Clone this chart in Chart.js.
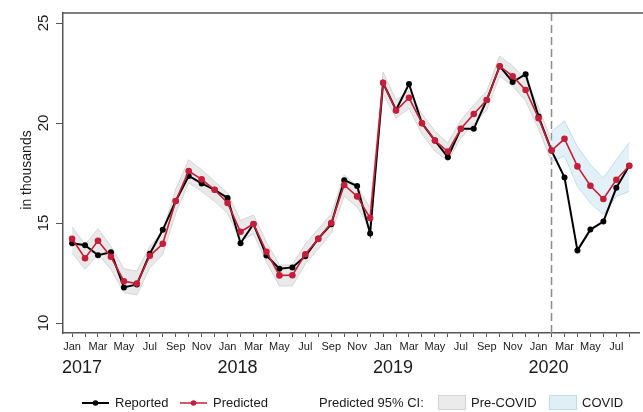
<!DOCTYPE html>
<html>
<head>
<meta charset="utf-8">
<script src="https://cdn.jsdelivr.net/npm/chart.js@4/dist/chart.umd.min.js"></script>
<style>
html, body { margin: 0; padding: 0; background: #fff; }
#wrap { width: 643px; height: 412px; }
</style>
</head>
<body>
<div id="wrap"><canvas id="c" width="643" height="412"></canvas></div>
<script>
// month index 0 = Jan 2017 ... 43 = Aug 2020
const monthNames = ["Jan","Feb","Mar","Apr","May","Jun","Jul","Aug","Sep","Oct","Nov","Dec"];
const years = ["2017","2018","2019","2020"];
const yTicks = [10, 15, 20, 25];

const reported = [13.99,13.89,13.39,13.54,11.78,11.93,13.46,14.66,16.10,17.35,16.98,16.66,
	16.25,13.99,14.95,13.38,12.71,12.78,13.34,14.22,14.94,17.14,16.85,14.47,
	22.01,20.65,21.95,19.99,19.12,18.29,19.71,19.71,21.15,22.84,22.05,22.44,
	20.32,18.62,17.28,13.63,14.67,15.07,16.76,17.86];

const predicted = [14.21,13.24,14.11,13.31,12.09,11.97,13.36,13.96,16.10,17.60,17.18,16.66,
	16.00,14.56,14.95,13.56,12.38,12.39,13.44,14.20,15.00,16.90,16.33,15.25,
	22.01,20.62,21.26,19.99,19.12,18.57,19.71,20.45,21.15,22.84,22.34,21.65,
	20.24,18.62,19.21,17.83,16.86,16.20,17.16,17.86];

// pre-COVID 95% CI, months 0..37
const preUpper = [14.81,13.92,14.71,13.84,12.71,12.59,13.84,14.59,16.70,18.16,17.66,17.08,
	16.50,15.13,15.40,14.05,12.90,12.90,13.95,14.70,15.45,17.40,16.85,15.75,
	22.56,21.15,21.61,20.45,19.60,19.00,20.15,20.90,21.60,23.35,22.85,22.20,
	20.80,19.10];
const preLower = [13.51,12.68,13.43,12.68,11.52,11.40,12.76,13.43,15.50,17.00,16.58,16.08,
	15.50,14.10,14.45,13.05,11.85,11.85,12.95,13.70,14.50,16.35,15.80,14.75,
	21.48,20.24,20.73,19.45,18.60,18.10,19.25,19.95,20.65,22.35,21.85,21.10,
	19.70,18.07];

// COVID 95% CI, months 37..43
const covidStart = 37;
const covidUpper = [19.57,20.10,18.82,17.91,17.25,18.16,19.02];
const covidLower = [18.07,18.35,16.83,16.00,15.42,16.33,16.58];

const FONT = "'Liberation Sans', Arial, Helvetica, sans-serif";
const RED = "#c41e3a";

const pts = (arr, start) => arr.map((v, i) => ({ x: i + (start || 0), y: v }));

const extras = {
	id: "extras",
	beforeDatasetsDraw(chart) {
		const { ctx, chartArea, scales } = chart;
		const x = scales.x.getPixelForValue(covidStart);
		ctx.save();
		ctx.strokeStyle = "#8c8c8c";
		ctx.lineWidth = 1.5;
		ctx.setLineDash([8, 4]);
		ctx.beginPath();
		ctx.moveTo(x, chartArea.top);
		ctx.lineTo(x, chartArea.bottom);
		ctx.stroke();
		ctx.restore();
	},
	afterDraw(chart) {
		const { ctx, chartArea, scales } = chart;
		ctx.save();
		// top frame line
		ctx.strokeStyle = "#555";
		ctx.lineWidth = 1.5;
		ctx.beginPath();
		ctx.moveTo(chartArea.left, chartArea.top);
		ctx.lineTo(chart.width, chartArea.top);
		ctx.stroke();

		ctx.fillStyle = "#1a1a1a";
		// rotated y tick labels
		ctx.font = "15px " + FONT;
		ctx.textAlign = "center";
		ctx.textBaseline = "middle";
		yTicks.forEach(v => {
			const y = scales.y.getPixelForValue(v);
			ctx.save();
			ctx.translate(44, y);
			ctx.rotate(-Math.PI / 2);
			ctx.fillText(String(v), 0, 0);
			ctx.restore();
		});
		// y title
		ctx.font = "14px " + FONT;
		ctx.save();
		ctx.translate(27, 170);
		ctx.rotate(-Math.PI / 2);
		ctx.fillText("in thousands", 0, 0);
		ctx.restore();

		// year labels
		ctx.font = "18px " + FONT;
		years.forEach((yr, k) => {
			const x = scales.x.getPixelForValue(k * 12) + 10;
			ctx.fillText(yr, x, 368);
		});

		// legend
		const ly = 403;
		ctx.font = "13px " + FONT;
		ctx.textAlign = "left";
		const lineItem = (x0, color, w, label) => {
			ctx.strokeStyle = color;
			ctx.lineWidth = w;
			ctx.beginPath();
			ctx.moveTo(x0, ly);
			ctx.lineTo(x0 + 27, ly);
			ctx.stroke();
			ctx.fillStyle = color;
			ctx.beginPath();
			ctx.arc(x0 + 13.5, ly, 2.8, 0, Math.PI * 2);
			ctx.fill();
			ctx.fillStyle = "#1a1a1a";
			ctx.fillText(label, x0 + 33, ly);
		};
		lineItem(82, "#000", 2, "Reported");
		lineItem(180, RED, 1.5, "Predicted");
		ctx.fillStyle = "#1a1a1a";
		ctx.fillText("Predicted 95% CI:", 319, ly);
		const box = (x0, fill, stroke, label) => {
			ctx.fillStyle = fill;
			ctx.fillRect(x0, ly - 8, 28, 15);
			ctx.strokeStyle = stroke;
			ctx.lineWidth = 1;
			ctx.strokeRect(x0 + 0.5, ly - 7.5, 27, 14);
			ctx.fillStyle = "#1a1a1a";
			ctx.fillText(label, x0 + 33, ly);
		};
		box(438, "#ebebeb", "#d4d4d4", "Pre-COVID");
		box(549, "#e0eff6", "#bddcec", "COVID");
		ctx.restore();
	}
};

const bandLine = { pointRadius: 0, pointHoverRadius: 0, borderWidth: 1, tension: 0 };

new Chart(document.getElementById("c").getContext("2d"), {
	type: "line",
	data: {
		datasets: [
			Object.assign({ label: "preUpper", data: pts(preUpper), borderColor: "#d6d6d6",
				backgroundColor: "#e9e9e9", fill: "+1", order: 6 }, bandLine),
			Object.assign({ label: "preLower", data: pts(preLower), borderColor: "#d6d6d6",
				fill: false, order: 5 }, bandLine),
			Object.assign({ label: "covidUpper", data: pts(covidUpper, covidStart), borderColor: "#bddcec",
				backgroundColor: "rgba(190,222,238,0.45)", fill: "+1", order: 4 }, bandLine),
			Object.assign({ label: "covidLower", data: pts(covidLower, covidStart), borderColor: "#bddcec",
				fill: false, order: 3 }, bandLine),
			{
				label: "Reported", data: pts(reported), borderColor: "#000", backgroundColor: "#000",
				borderWidth: 2, pointRadius: 3, pointBorderWidth: 0, tension: 0, fill: false, order: 2
			},
			{
				label: "Predicted", data: pts(predicted), borderColor: RED, backgroundColor: RED,
				borderWidth: 1.6, pointRadius: 3.3, pointBorderWidth: 0, tension: 0, fill: false, order: 1
			}
		]
	},
	options: {
		responsive: false,
		animation: false,
		layout: { padding: { top: 13, right: 0, left: 0, bottom: 0 } },
		plugins: { legend: { display: false }, tooltip: { enabled: false } },
		scales: {
			x: {
				type: "linear",
				min: -0.7,
				max: 43.75,
				grid: { drawOnChartArea: false, drawTicks: true, tickLength: 4, tickColor: "#555", tickWidth: 1 },
				border: { color: "#555", width: 1.5 },
				ticks: {
					stepSize: 1,
					autoSkip: false,
					includeBounds: false,
					maxRotation: 0,
					minRotation: 0,
					padding: 3,
					color: "#1a1a1a",
					font: { family: FONT, size: 11 },
					callback: v => (Number.isInteger(v) && v % 2 === 0) ? monthNames[v % 12] : ""
				},
				afterFit: s => { s.height = 79; }
			},
			y: {
				min: 9.5,
				max: 25.5,
				grid: { drawOnChartArea: false, drawTicks: true, tickLength: 7, tickColor: "#555", tickWidth: 1 },
				border: { color: "#555", width: 1.5 },
				ticks: { stepSize: 5, includeBounds: false, display: false },
				afterFit: s => { s.width = 63; }
			}
		}
	},
	plugins: [extras]
});
</script>
</body>
</html>
